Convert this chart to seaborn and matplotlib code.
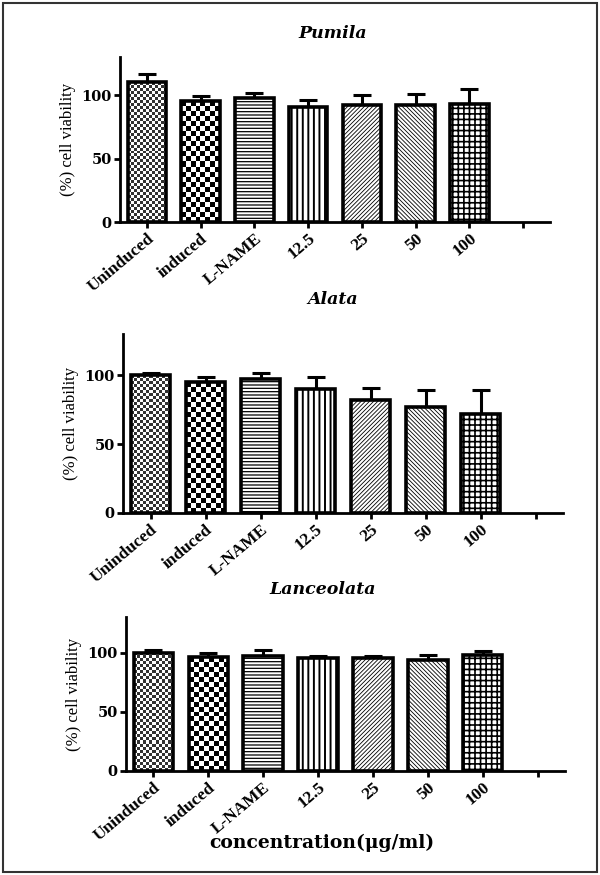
import numpy as np
import pandas as pd
import matplotlib
matplotlib.use("Agg")
import matplotlib.pyplot as plt
import seaborn as sns
from matplotlib.patches import Rectangle

categories = ["Uninduced", "induced", "L-NAME", "12.5", "25", "50", "100"]
pumila_mean = [110, 95, 98, 91, 92, 92, 93]
pumila_err = [7, 4, 4, 5, 8, 9, 12]
alata_mean = [100, 95, 97, 90, 82, 77, 72]
alata_err = [1.5, 4, 5, 9, 9, 12, 17]
lanc_mean = [100, 96, 97.5, 95, 95, 94, 98]
lanc_err = [2.5, 3.5, 4.5, 2, 2, 4, 3]
titles = ["Pumila", "Alata", "Lanceolata"]
yticks = [0, 50, 100]
xlabel = "concentration(\u03bcg/ml)"
ylabel = "(%) cell viability"

sns.set_style("ticks")
plt.rcParams["font.family"] = ["DejaVu Serif"]
plt.rcParams["hatch.linewidth"] = 0.8
for k in ["text.color", "axes.labelcolor", "xtick.color", "ytick.color", "axes.edgecolor"]:
    plt.rcParams[k] = "black"

W, H = 600, 875
fig = plt.figure(figsize=(6, 8.75), dpi=100)

panels = [
    (pumila_mean, pumila_err, titles[0], (120, 57, 550, 222), (333, 33)),
    (alata_mean, alata_err, titles[1], (123, 334, 563, 513), (333, 300)),
    (lanc_mean, lanc_err, titles[2], (126, 617, 565, 771), (323, 590)),
]

hatches = [None, None, "-----", "|||", "////////", "\\\\\\\\\\\\\\\\", "+++"]
hatch_lw = [None, None, 0.9, 1.4, 0.6, 0.6, 1.2]
checker_px = {0: 3, 1: 5}

for mean, err, title, (l, t, r, b), (tx, ty) in panels:
    ax = fig.add_axes([l / W, 1 - b / H, (r - l) / W, (b - t) / H])
    df = pd.DataFrame({"cat": categories, "val": mean})
    sns.barplot(data=df, x="cat", y="val", order=categories, color="white",
                edgecolor="black", linewidth=2.6, errorbar=None, width=0.72,
                saturation=1, ax=ax)
    ax.errorbar(np.arange(len(categories)), mean,
                yerr=[np.zeros(len(err)), err], fmt="none", ecolor="black",
                elinewidth=2.2, capsize=6.5, capthick=2.2, zorder=1)
    ax.set_xlim(-0.5, len(categories) + 0.5)
    ax.set_ylim(0, 130)
    ax.set_yticks(yticks)
    ax.set_xticks(range(len(categories) + 1))
    ax.set_xticklabels(categories + [""], rotation=40, ha="right",
                       rotation_mode="anchor", fontsize=12.5, fontweight="bold",
                       family="Liberation Serif")
    for lab in ax.get_yticklabels():
        lab.set_fontweight("bold")
        lab.set_fontsize(10.5)
    ax.tick_params(axis="both", direction="out", length=4, width=2, pad=2)
    sns.despine(ax=ax)
    for sp in ["left", "bottom"]:
        ax.spines[sp].set_linewidth(2)
    ax.set_xlabel("")
    ax.set_ylabel(ylabel, family="Liberation Serif", fontsize=12, labelpad=4)

    fig.canvas.draw()
    for i, p in enumerate(ax.patches):
        p.set_zorder(2)
        if i in checker_px:
            p.set_facecolor("none")
            x0, x1 = p.get_x(), p.get_x() + p.get_width()
            h = p.get_height()
            (px0, py0) = ax.transData.transform((x0, 0))
            (px1, py1) = ax.transData.transform((x1, h))
            cs = checker_px[i]
            ncol = max(1, int(round((px1 - px0) / cs)))
            nrow = max(1, int(round((py1 - py0) / cs)))
            arr = (np.add.outer(np.arange(nrow), np.arange(ncol)) % 2).astype(float)
            cmap = "gray" if i == 1 else matplotlib.colors.ListedColormap(["#333333", "white"])
            im = ax.imshow(arr, extent=(x0, x1, 0, h), cmap=cmap,
                           interpolation="nearest", aspect="auto", zorder=1.5)
            im.set_clip_path(p)
        elif hatches[i]:
            p.set_hatch(hatches[i])
            try:
                p.set_hatch_linewidth(hatch_lw[i])
            except Exception:
                pass
    ax.set_xlim(-0.5, len(categories) + 0.5)
    ax.set_ylim(0, 130)

    fig.text(tx / W, 1 - ty / H, title, ha="center", va="center",
             fontsize=12.5, fontweight="bold", fontstyle="italic",
             family="DejaVu Serif")

fig.text(322 / W, 1 - 843 / H, xlabel, ha="center", va="center",
         fontsize=13.5, fontweight="bold", family="DejaVu Serif")

fig.patches.append(Rectangle((3 / W, 3 / H), 594 / W, 869 / H,
                             transform=fig.transFigure, fill=False,
                             linewidth=1.5, edgecolor="#333333"))

fig.savefig("out.png", dpi=100)
